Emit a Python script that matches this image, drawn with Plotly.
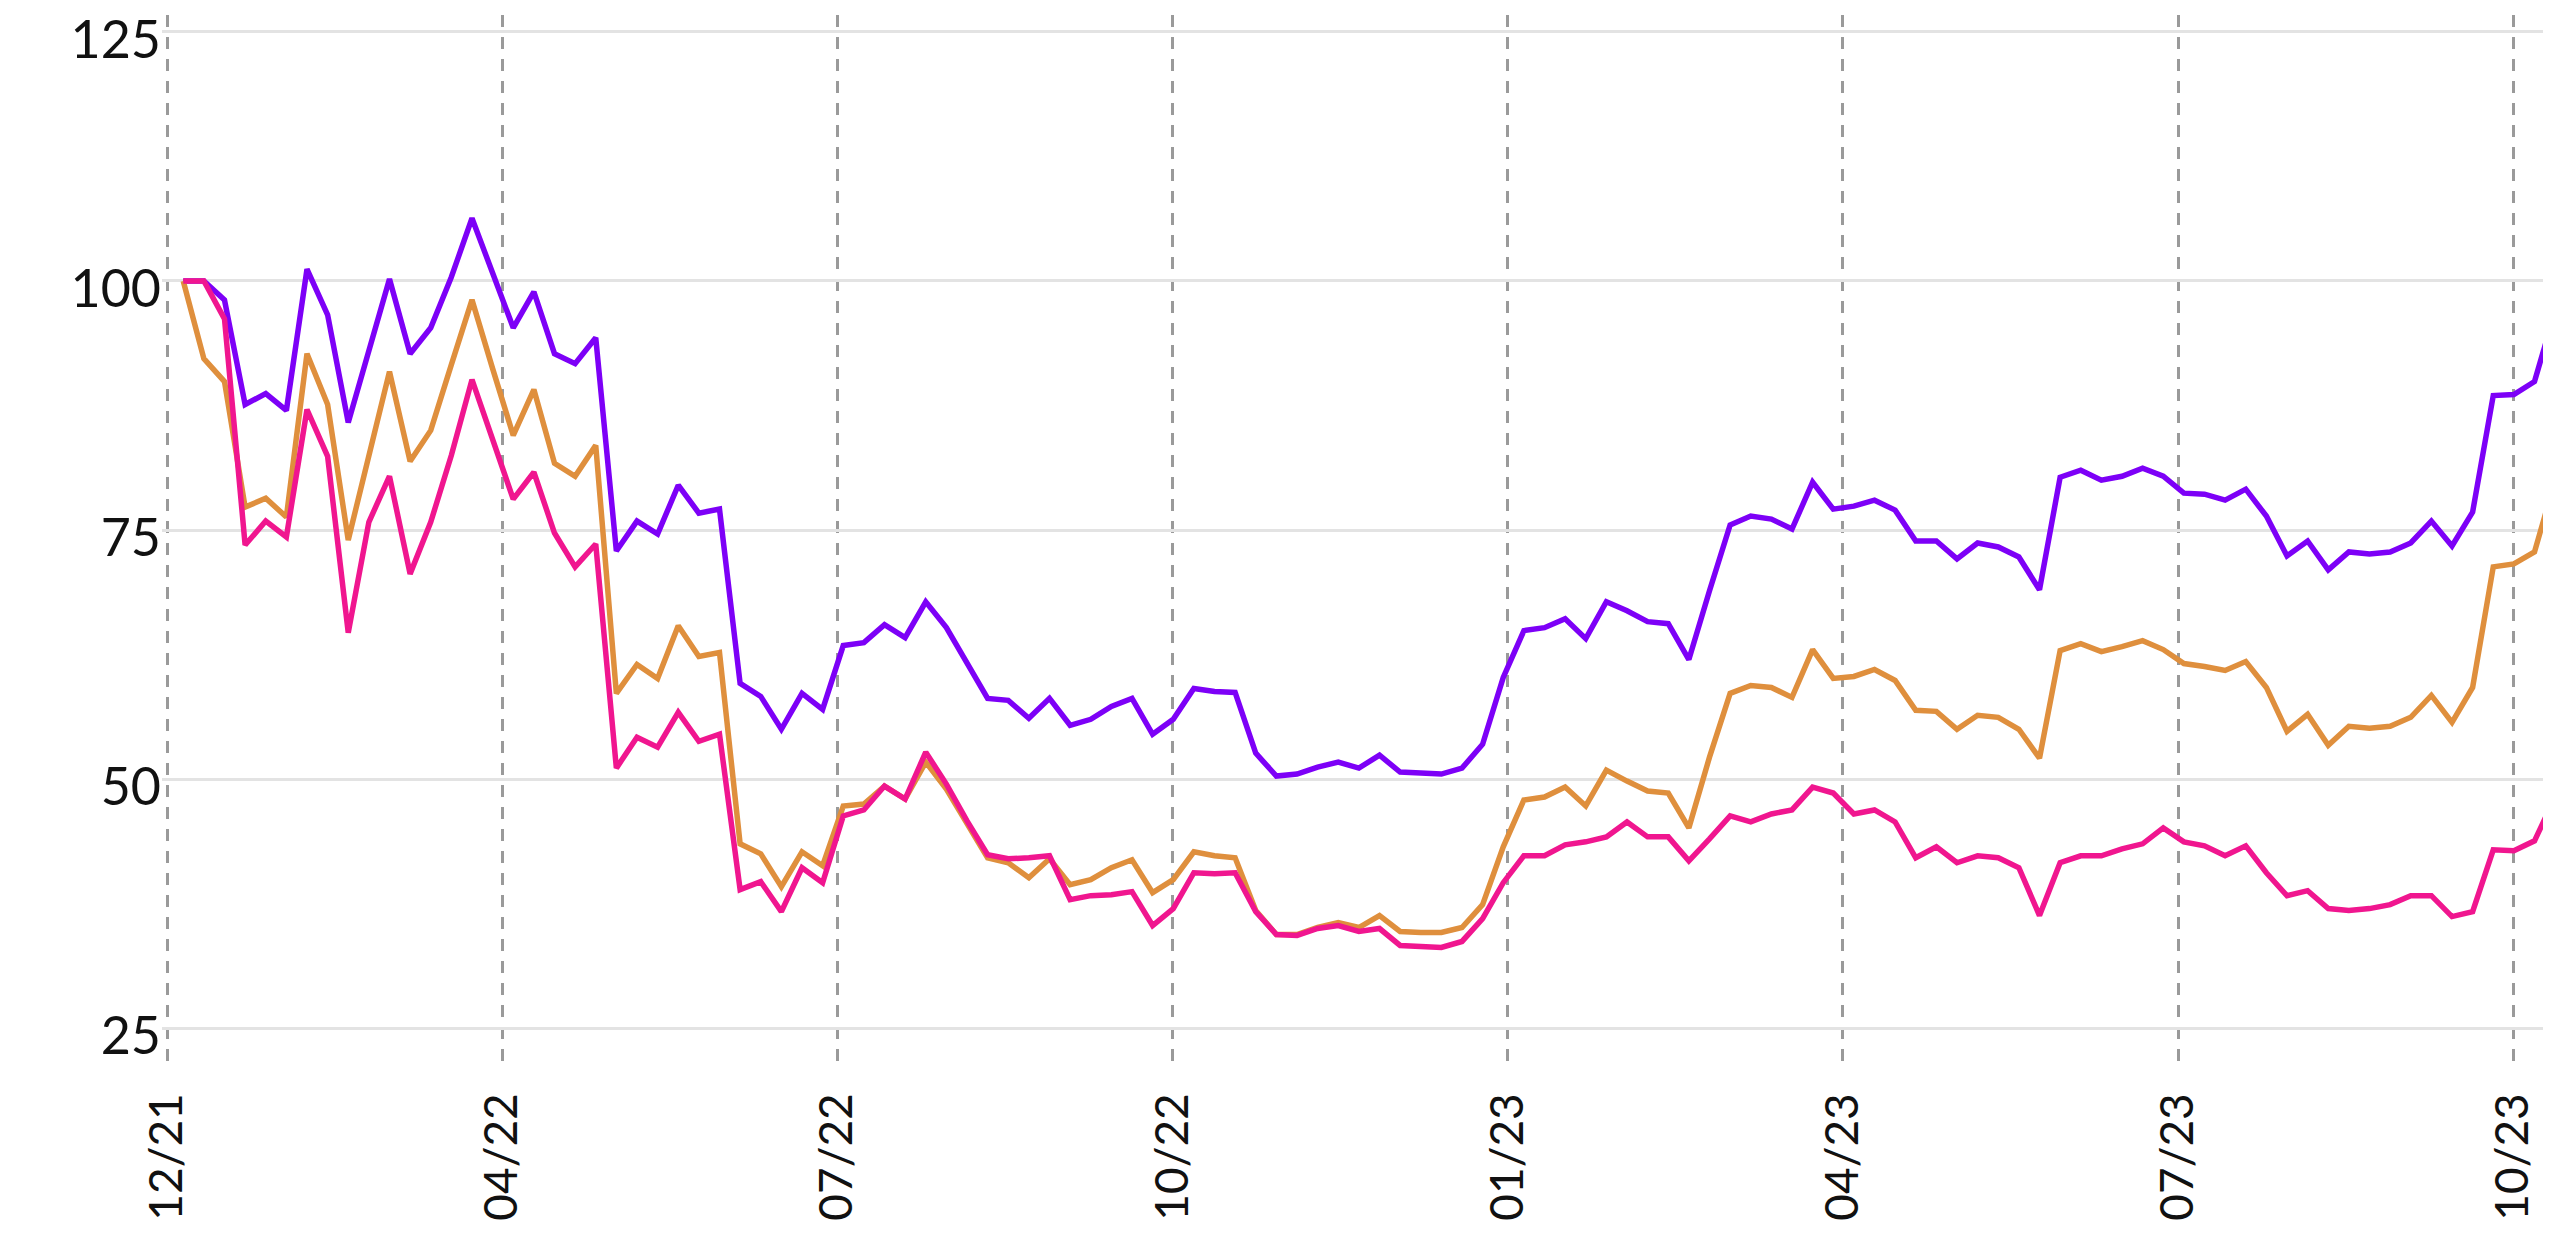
import plotly.graph_objects as go

# Observation index (regularly spaced samples)
purple = [100, 100, 98.1, 87.6, 88.7, 87.0, 101.2, 96.6, 85.8, 93.0,
          100.2, 92.7, 95.3, 100.4, 106.3, 100.8, 95.3, 98.9, 92.7, 91.7,
          94.3, 72.9, 75.9, 74.6, 79.5, 76.7, 77.1, 59.6, 58.3, 55.0,
          58.6, 57.0, 63.4, 63.7, 65.5, 64.2, 67.8, 65.2, 61.6, 58.1,
          57.9, 56.1, 58.1, 55.4, 56.0, 57.3, 58.1, 54.5, 56.0, 59.1,
          58.8, 58.7, 52.6, 50.3, 50.5, 51.2, 51.7, 51.1, 52.4, 50.7,
          50.6, 50.5, 51.1, 53.5, 60.2, 64.9, 65.2, 66.1, 64.1, 67.8,
          66.9, 65.8, 65.6, 62.0, 68.9, 75.5, 76.4, 76.1, 75.1, 79.8,
          77.1, 77.4, 78.0, 77.0, 73.9, 73.9, 72.1, 73.7, 73.3, 72.3,
          69.0, 80.3, 81.0, 80.0, 80.4, 81.2, 80.4, 78.7, 78.6, 78.0,
          79.1, 76.4, 72.4, 73.9, 71.0, 72.8, 72.6, 72.8, 73.7, 75.9,
          73.4, 76.8, 88.5, 88.6, 89.9, 97.0]

orange = [100, 92.2, 89.9, 77.3, 78.2, 76.3, 92.7, 87.6, 74.0, 82.5,
          90.9, 81.9, 85.0, 91.6, 98.1, 91.2, 84.5, 89.1, 81.7, 80.4,
          83.5, 58.6, 61.5, 60.1, 65.4, 62.3, 62.7, 43.5, 42.5, 39.2,
          42.7, 41.3, 47.3, 47.5, 49.3, 48.0, 51.7, 49.0, 45.5, 42.1,
          41.6, 40.1, 42.0, 39.4, 39.9, 41.1, 41.9, 38.6, 39.9, 42.7,
          42.3, 42.1, 36.8, 34.4, 34.4, 35.1, 35.6, 35.1, 36.3, 34.7,
          34.6, 34.6, 35.1, 37.4, 43.2, 47.9, 48.2, 49.2, 47.3, 50.9,
          49.8, 48.8, 48.6, 45.1, 52.2, 58.6, 59.4, 59.2, 58.2, 63.0,
          60.1, 60.3, 61.0, 59.9, 56.9, 56.8, 55.0, 56.4, 56.2, 55.0,
          52.1, 62.9, 63.6, 62.8, 63.3, 63.9, 63.0, 61.6, 61.3, 60.9,
          61.8, 59.2, 54.8, 56.5, 53.4, 55.3, 55.1, 55.3, 56.2, 58.4,
          55.7, 59.2, 71.3, 71.6, 72.8, 80.0]

pink = [100, 100, 96.2, 73.5, 75.9, 74.3, 87.1, 82.4, 64.7, 75.8,
        80.4, 70.6, 75.8, 82.5, 90.1, 84.0, 78.1, 80.8, 74.7, 71.3,
        73.6, 51.1, 54.2, 53.2, 56.7, 53.8, 54.5, 38.9, 39.7, 36.7,
        41.1, 39.6, 46.3, 46.9, 49.3, 48.0, 52.7, 49.5, 45.8, 42.4,
        42.0, 42.1, 42.3, 37.9, 38.3, 38.4, 38.7, 35.3, 37.0, 40.6,
        40.5, 40.6, 36.7, 34.4, 34.3, 35.0, 35.3, 34.7, 35.0, 33.3,
        33.2, 33.1, 33.7, 36.0, 39.6, 42.3, 42.3, 43.4, 43.7, 44.2,
        45.7, 44.2, 44.2, 41.8, 44.0, 46.3, 45.7, 46.5, 46.9, 49.2,
        48.6, 46.5, 46.9, 45.7, 42.1, 43.2, 41.6, 42.3, 42.1, 41.1,
        36.3, 41.6, 42.3, 42.3, 43.0, 43.5, 45.1, 43.7, 43.3, 42.3,
        43.3, 40.6, 38.3, 38.8, 37.0, 36.8, 37.0, 37.4, 38.3, 38.3,
        36.2, 36.7, 42.9, 42.8, 43.8, 48.2]

x_index = list(range(len(purple)))

tick_labels = ["12/21", "04/22", "07/22", "10/22", "01/23", "04/23", "07/23", "10/23"]
tick_positions = [-0.78 + 16.25 * k for k in range(len(tick_labels))]
y_ticks = [25, 50, 75, 100, 125]

fig = go.Figure()
for name, vals, color in [("Série 1", purple, "#7d00f7"),
                          ("Série 2", orange, "#df8f3d"),
                          ("Série 3", pink, "#f0168f")]:
    fig.add_trace(go.Scatter(x=x_index, y=vals, mode="lines", name=name,
                             line=dict(color=color, width=5.5),
                             hoverinfo="skip"))

fig.update_layout(
    width=2551, height=1254,
    margin=dict(l=154, r=8, t=7, b=200),
    paper_bgcolor="white", plot_bgcolor="white",
    showlegend=False,
    font=dict(family="Lato, sans-serif", color="#111111"),
    xaxis=dict(
        range=[-1.03, 114.8],
        tickmode="array", tickvals=tick_positions, ticktext=tick_labels,
        tickangle=-90, tickfont=dict(size=46, color="#111111"),
        showgrid=True, gridcolor="#9a9a9a", gridwidth=2.5, griddash="12px,10px",
        zeroline=False, showline=False, ticks="", ticklabelstandoff=21,
        ticklabeloverflow="allow", automargin=False,
    ),
    yaxis=dict(
        range=[21.6, 126.7],
        tickmode="array", tickvals=y_ticks,
        tickfont=dict(size=52, color="#111111"),
        showgrid=True, gridcolor="#e3e3e3", gridwidth=3,
        zeroline=False, showline=False, ticks="", ticklabelstandoff=0,
        ticklabelshift=8,
        ticklabeloverflow="allow", automargin=False,
    ),
)

fig.write_html("out.html")
